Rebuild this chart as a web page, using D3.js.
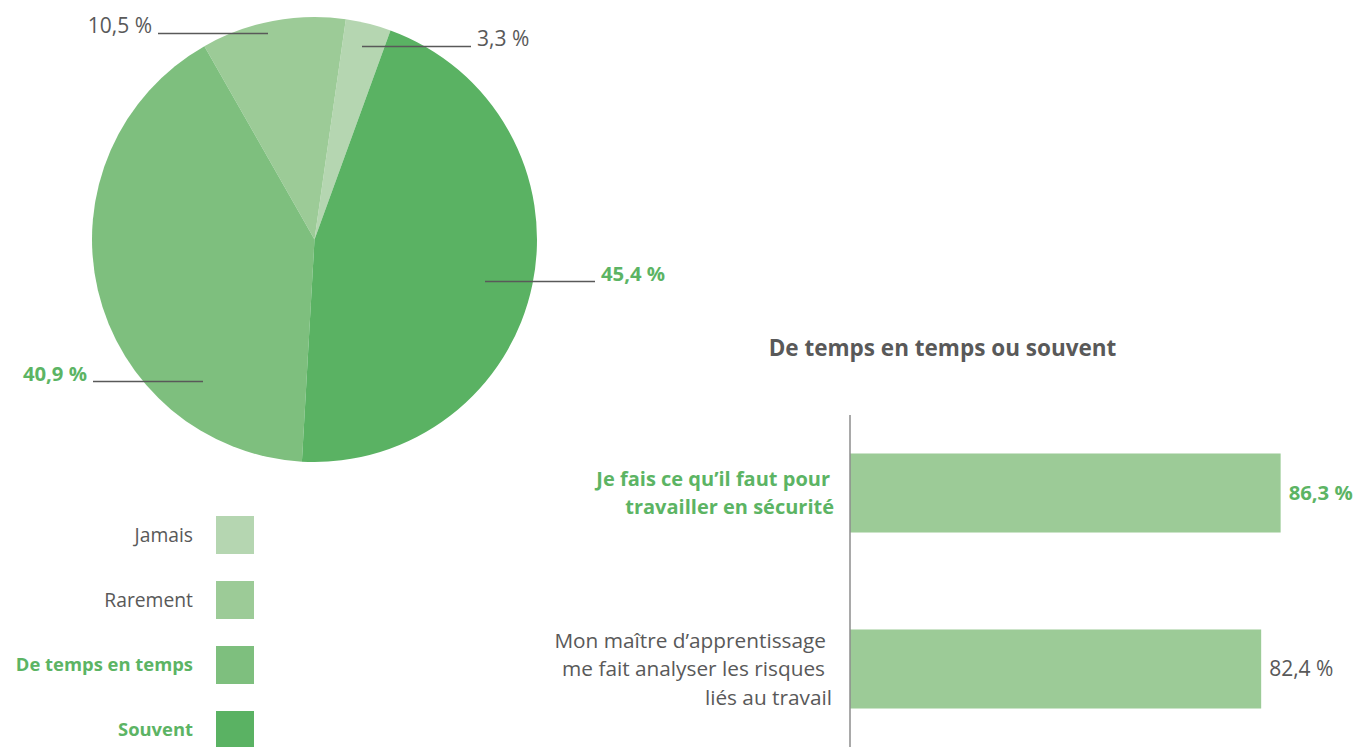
<!DOCTYPE html>
<html lang="fr">
<head>
<meta charset="utf-8">
<script src="https://cdn.jsdelivr.net/npm/d3@7"></script>
<style>
  html, body { margin: 0; padding: 0; background: #fff; }
  svg { display: block; font-family: "Open Sans", "Noto Sans", sans-serif; }
</style>
</head>
<body>
<svg id="chart" width="1356" height="747"></svg>
<script>
// Fréquence : catégories et parts (%)
const freqCategories = ["Jamais", "Rarement", "De temps en temps", "Souvent"];
const freqValues = [3.3, 10.5, 40.9, 45.4];
// Ordre des secteurs dans le camembert (sens horaire)
const sliceOrder = ["Jamais", "Souvent", "De temps en temps", "Rarement"];

// Barres : « De temps en temps ou souvent »
const barTitle = "De temps en temps ou souvent";
const barCategories = [
  ["Je fais ce qu\u2019il faut pour", "travailler en s\u00e9curit\u00e9"],
  ["Mon ma\u00eetre d\u2019apprentissage", "me fait analyser les risques", "li\u00e9s au travail"]
];
const barValues = [86.3, 82.4];

const grey = "#595959";
const green = "#5cb464";
const colors = {
  "Jamais": "#b5d6b1",
  "Rarement": "#9ccb97",
  "De temps en temps": "#7ebf7e",
  "Souvent": "#5ab263"
};
const highlighted = new Set(["De temps en temps", "Souvent"]);
const fmt = v => v.toFixed(1).replace(".", ",") + " %";

const svg = d3.select("#chart");

// ---------- Camembert ----------
const cx = 314.5, cy = 239.5, R = 222.5;
const pieData = freqCategories.map((c, i) => ({ cat: c, value: freqValues[i] }));
const pie = d3.pie()
  .value(d => d.value)
  .sort((a, b) => sliceOrder.indexOf(a.cat) - sliceOrder.indexOf(b.cat))
  .startAngle(8.1 * Math.PI / 180)
  .endAngle(8.1 * Math.PI / 180 + 2 * Math.PI);
const arc = d3.arc().innerRadius(0).outerRadius(R);

const pieG = svg.append("g").attr("transform", `translate(${cx},${cy})`);
const arcs = pie(pieData);
pieG.selectAll("path.slice")
  .data(arcs)
  .join("path")
  .attr("class", "slice")
  .attr("d", arc)
  .attr("fill", d => colors[d.data.cat]);

// Étiquettes avec traits de rappel horizontaux
const labelLayout = {
  "Rarement":          { x1: 268, x2: 158, y: 33.5, tx: 152, anchor: "end" },
  "Jamais":            { x1: 362, x2: 471, y: 46.5, tx: 477, anchor: "start" },
  "Souvent":           { x1: 485, x2: 595, y: 281.5, tx: 601, anchor: "start" },
  "De temps en temps": { x1: 203, x2: 93, y: 381.5, tx: 87, anchor: "end" }
};
const labG = svg.append("g");
arcs.forEach(a => {
  const L = labelLayout[a.data.cat];
  labG.append("line")
    .attr("x1", L.x1).attr("x2", L.x2)
    .attr("y1", L.y).attr("y2", L.y)
    .attr("stroke", grey).attr("stroke-width", 1.4);
  const hi = highlighted.has(a.data.cat);
  labG.append("text")
    .attr("x", L.tx).attr("y", L.y - 1)
    .attr("text-anchor", L.anchor)
    .attr("font-size", hi ? 20.3 : 21)
    .attr("font-weight", hi ? 700 : 400)
    .attr("fill", hi ? green : grey)
    .text(fmt(a.data.value));
});

// Légende
const legY = d3.scaleBand().domain(freqCategories).range([516, 776]);
const legG = svg.append("g");
legG.selectAll("rect")
  .data(freqCategories)
  .join("rect")
  .attr("x", 216).attr("y", d => legY(d))
  .attr("width", 38).attr("height", 38)
  .attr("fill", d => colors[d]);
legG.selectAll("text")
  .data(freqCategories)
  .join("text")
  .attr("x", 193).attr("y", d => legY(d) + 19)
  .attr("dy", "0.35em")
  .attr("text-anchor", "end")
  .attr("font-size", d => highlighted.has(d) ? 18.4 : 19.3)
  .attr("font-weight", d => highlighted.has(d) ? 700 : 400)
  .attr("fill", d => highlighted.has(d) ? green : grey)
  .text(d => d);

// ---------- Barres ----------
const x = d3.scaleLinear().domain([0, 100]).range([850, 1349]);
const y = d3.scaleBand()
  .domain(d3.range(barValues.length))
  .range([415, 747])
  .paddingInner(0.551)
  .paddingOuter(0.2187);

svg.append("text")
  .attr("x", 942.5).attr("y", 348)
  .attr("dy", "0.35em")
  .attr("text-anchor", "middle")
  .attr("font-size", 22.5)
  .attr("font-weight", 700)
  .attr("fill", grey)
  .text(barTitle);

const barG = svg.append("g");
barG.selectAll("rect")
  .data(barValues)
  .join("rect")
  .attr("x", x(0))
  .attr("y", (d, i) => y(i))
  .attr("width", d => x(d) - x(0))
  .attr("height", y.bandwidth())
  .attr("fill", "#9ccb97");

// Axe vertical
barG.append("line")
  .attr("x1", x(0)).attr("x2", x(0))
  .attr("y1", y.range()[0]).attr("y2", y.range()[1])
  .attr("stroke", "#8c8c8c").attr("stroke-width", 1.5);

// Valeurs
barG.selectAll("text.val")
  .data(barValues)
  .join("text")
  .attr("class", "val")
  .attr("x", d => x(d) + 8)
  .attr("y", (d, i) => y(i) + y.bandwidth() / 2)
  .attr("dy", "0.35em")
  .attr("font-size", (d, i) => i === 0 ? 20.3 : 21)
  .attr("font-weight", (d, i) => i === 0 ? 700 : 400)
  .attr("fill", (d, i) => i === 0 ? green : grey)
  .text(fmt);

// Libellés de catégories (bord droit de chaque ligne, espaces de fin compris)
const lineEnds = [[830, 834], [826, 825, 832]];
const lineH = 28.5;
barCategories.forEach((lines, i) => {
  const mid = y(i) + y.bandwidth() / 2;
  const t = barG.append("text")
    .attr("text-anchor", "end")
    .attr("font-size", i === 0 ? 20 : 20.8)
    .attr("font-weight", i === 0 ? 700 : 400)
    .attr("fill", i === 0 ? green : grey);
  lines.forEach((ln, k) => {
    t.append("tspan")
      .attr("x", lineEnds[i][k])
      .attr("y", mid + (k - (lines.length - 1) / 2) * lineH)
      .attr("dy", "0.35em")
      .text(ln);
  });
});
</script>
</body>
</html>
